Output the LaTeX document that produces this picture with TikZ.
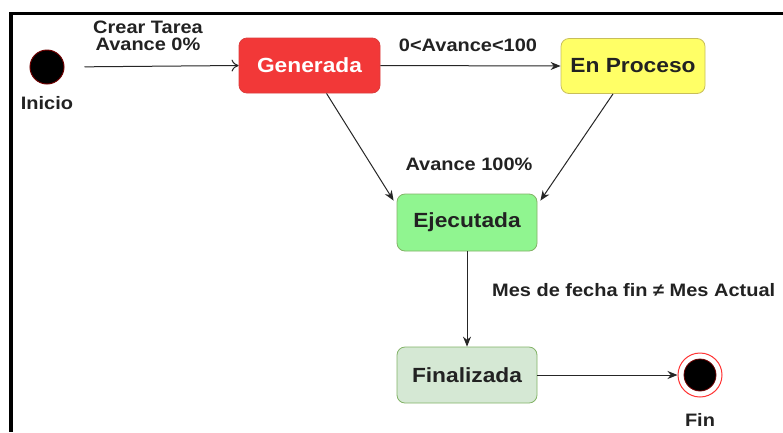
\documentclass[tikz,border=0pt]{standalone}
\usepackage{fontspec}
\setmainfont[FakeStretch=1.11]{Liberation Sans}
\usetikzlibrary{arrows.meta,calc}
\definecolor{genfill}{RGB}{242,56,56}
\definecolor{gendraw}{RGB}{220,60,60}
\definecolor{procfill}{RGB}{255,255,102}
\definecolor{procdraw}{RGB}{200,190,90}
\definecolor{ejefill}{RGB}{144,245,144}
\definecolor{finfill}{RGB}{213,232,212}
\definecolor{greendraw}{RGB}{130,179,102}
\definecolor{txt}{RGB}{34,34,34}
\definecolor{darkred}{RGB}{110,0,0}
\tikzset{
  state/.style={rectangle, rounded corners=8pt, line width=0.8pt, minimum width=141pt, minimum height=55pt, font=\fontsize{20.5}{22}\selectfont\bfseries, text=txt, inner sep=0pt},
  lbl/.style={font=\fontsize{18}{17}\selectfont\bfseries, text=txt, inner sep=0pt, align=center},
  conn/.style={line width=1pt, draw=black!85, -{Stealth[length=10pt,width=8pt]}},
}
\begin{document}
\begin{tikzpicture}[x=1pt,y=-1pt]
\useasboundingbox[fill=white] (0,0) rectangle (783,432);
\draw[line width=3.5pt, line join=miter] (783,13.5) -- (11,13.5) -- (11,432);

\node[state, fill=genfill, draw=gendraw, text=white] (gen) at (309.5,65.5) {Generada};
\node[state, fill=procfill, draw=procdraw, minimum width=144pt] (proc) at (633,66) {En Proceso};
\node[state, fill=ejefill, draw=greendraw, minimum width=140pt, minimum height=57pt] (eje) at (467,222.5) {Ejecutada};
\node[state, fill=finfill, draw=greendraw, minimum width=140pt, minimum height=56pt] (fina) at (467,375) {Finalizada};

\node[circle, fill=black, draw=darkred, line width=1pt, minimum size=34pt, inner sep=0pt] (ini) at (47,67) {};
\node[circle, draw=red!80!white, line width=1pt, fill=white, minimum size=44pt, inner sep=0pt] (fin) at (700,375) {};
\node[circle, fill=black, draw=darkred, line width=0.8pt, minimum size=32pt, inner sep=0pt] (finin) at (fin) {};

\node[lbl] (linicio) at (47,103) {Inicio};
\node[lbl] (lfin) at (700,420) {Fin};
\node[lbl] (l1a) at (148,27) {Crear Tarea};
\node[lbl] (l1b) at (148,44) {Avance 0\%};
\node[lbl] (l2) at (468,45) {0<Avance<100};
\node[lbl] (l3) at (469,164) {Avance 100\%};
\node[lbl, anchor=west] (l4) at (492,290) {Mes de fecha fin ≠ Mes Actual};

\draw[line width=1pt, draw=black!85, -{To[length=7pt,width=12pt]}, shorten <=20pt] (ini.east) -- (gen.west);
\draw[conn] (gen.east) -- (proc.west);
\draw[conn] ($(gen.south)+(17,0)$) -- ($(eje.north west)+(-3,7)$);
\draw[conn] ($(proc.south)+(-20,0)$) -- ($(eje.north east)+(3,7)$);
\draw[conn] (eje.south) -- (fina.north);
\draw[conn] (fina.east) -- (fin.west);
\end{tikzpicture}
\end{document}
